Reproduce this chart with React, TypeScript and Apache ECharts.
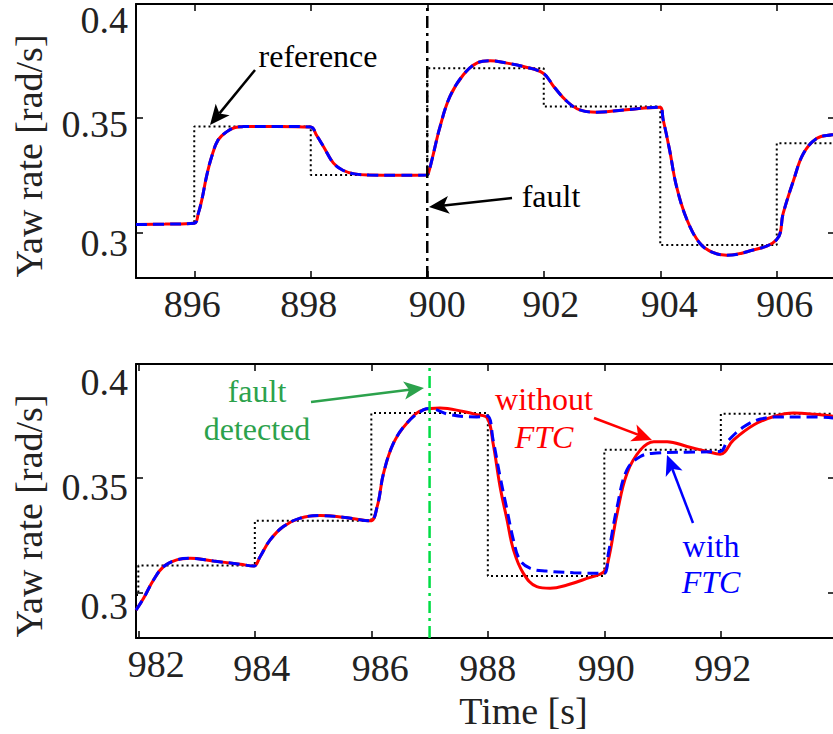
import { useEffect, useRef } from 'react';
import * as echarts from 'echarts';

// ---------------- data ----------------
const topTimeTicks = [896, 898, 900, 902, 904, 906];
const bottomTimeTicks = [982, 984, 986, 988, 990, 992];
const yawTicks = [0.3, 0.35, 0.4];
const yawTickLabels = ['0.3', '0.35', '0.4'];

const faultTime = 900;
const detectTime = 987;

const topRefTime = [895, 896, 898, 900, 902, 904, 906, 907];
const topRefYaw = [0.3036, 0.3463, 0.3251, 0.3719, 0.3551, 0.2944, 0.339, 0.339];

const topTime = [
  895.0, 895.5, 896.0, 896.07, 896.13, 896.21, 896.3, 896.41, 896.56, 896.7, 896.84, 897.4,
  898.0, 898.1, 898.22, 898.39, 898.55, 898.75, 899.0, 899.5, 900.0, 900.02, 900.08, 900.22,
  900.39, 900.62, 900.85, 901.08, 901.37, 901.65, 901.99, 902.17, 902.4, 902.62, 902.91,
  903.37, 903.99, 904.05, 904.16, 904.28, 904.46, 904.68, 904.9, 905.14, 905.49, 906.0,
  906.11, 906.29, 906.46, 906.69, 906.95, 907.0,
];
const topYawWithoutFTC = [
  0.3034, 0.3036, 0.304, 0.3083, 0.3142, 0.3244, 0.3332, 0.3405, 0.3441, 0.3459, 0.3463, 0.3464,
  0.3461, 0.3425, 0.3375, 0.3303, 0.3272, 0.3256, 0.3251, 0.325, 0.3251, 0.3259, 0.3317, 0.3463,
  0.3595, 0.369, 0.3741, 0.3751, 0.3741, 0.3726, 0.3697, 0.3639, 0.3573, 0.3536, 0.3526,
  0.3536, 0.3548, 0.3493, 0.3361, 0.32, 0.3054, 0.2952, 0.2912, 0.29, 0.2915, 0.2969,
  0.3083, 0.3229, 0.3346, 0.3412, 0.3427, 0.3428,
];
const topYawWithFTC = [
  0.3034, 0.3036, 0.304, 0.3083, 0.3142, 0.3244, 0.3332, 0.3405, 0.3441, 0.3459, 0.3463, 0.3464,
  0.3461, 0.3425, 0.3375, 0.3303, 0.3272, 0.3256, 0.3251, 0.325, 0.3251, 0.3259, 0.3317, 0.3463,
  0.3595, 0.369, 0.3741, 0.3751, 0.3741, 0.3726, 0.3697, 0.3639, 0.3573, 0.3536, 0.3526,
  0.3536, 0.3548, 0.3493, 0.3361, 0.32, 0.3054, 0.2952, 0.2912, 0.29, 0.2915, 0.2969,
  0.3083, 0.3229, 0.3346, 0.3412, 0.3427, 0.3428,
];

const bottomRefTime = [981.96, 982, 984, 986, 988, 990, 992, 993.96];
const bottomRefYaw = [0.2988, 0.3117, 0.3313, 0.3785, 0.3071, 0.3624, 0.3782, 0.3782];

const bottomTimeWithout = [
  981.96, 982.09, 982.26, 982.43, 982.66, 982.89, 983.29, 983.75, 983.98, 984.09, 984.26,
  984.49, 984.78, 985.12, 985.52, 985.98, 986.1, 986.21, 986.38, 986.61, 986.9, 987.18,
  987.58, 987.81, 987.99, 988.09, 988.21, 988.33, 988.44, 988.61, 988.84, 989.07, 989.36,
  989.7, 989.99, 990.07, 990.22, 990.39, 990.62, 990.85, 991.08, 991.42, 991.76, 991.99,
  992.22, 992.57, 992.91, 993.25, 993.6, 993.96,
];
const bottomYawWithout = [
  0.2922, 0.2974, 0.3054, 0.3112, 0.3142, 0.3149, 0.3137, 0.3123, 0.3115, 0.3156, 0.3229,
  0.3288, 0.3325, 0.3336, 0.3329, 0.3313, 0.3375, 0.3522, 0.3653, 0.3741, 0.38, 0.3807,
  0.3792, 0.3778, 0.3763, 0.3653, 0.3463, 0.3317, 0.3186, 0.3083, 0.3025, 0.3018, 0.3032,
  0.3061, 0.309, 0.3142, 0.3346, 0.3522, 0.3624, 0.366, 0.366, 0.3639, 0.3617, 0.3605,
  0.3668, 0.3734, 0.377, 0.3785, 0.378, 0.377,
];

const bottomTimeWith = [
  981.96, 982.09, 982.26, 982.43, 982.66, 982.89, 983.29, 983.75, 983.98, 984.09, 984.26,
  984.49, 984.78, 985.12, 985.52, 985.98, 986.1, 986.21, 986.38, 986.61, 986.9, 987.0,
  987.35, 987.81, 987.99, 988.09, 988.21, 988.33, 988.44, 988.55, 988.73, 989.01, 989.47,
  989.99, 990.07, 990.22, 990.39, 990.62, 990.9, 991.42, 991.99, 992.11, 992.4, 992.68,
  993.02, 993.6, 993.96,
];
const bottomYawWith = [
  0.2922, 0.2974, 0.3054, 0.3112, 0.3142, 0.3149, 0.3137, 0.3123, 0.3115, 0.3156, 0.3229,
  0.3288, 0.3325, 0.3336, 0.3329, 0.3313, 0.3375, 0.3522, 0.3653, 0.3741, 0.38, 0.3805,
  0.3778, 0.3768, 0.3772, 0.3668, 0.3507, 0.3361, 0.3229, 0.3142, 0.3105, 0.3093, 0.3086,
  0.3083, 0.3171, 0.3375, 0.3537, 0.3595, 0.361, 0.3614, 0.3617, 0.366, 0.3726, 0.3759,
  0.3768, 0.3768, 0.3763,
];

// ---------------- styling ----------------
const FONT = '"Liberation Serif", "Times New Roman", Times, serif';
const TXT = '#222222';
const RED = '#ff0000';
const BLUE = '#0000ff';
const GREEN_TXT = '#2ca24c';
const GREEN_LINE = '#00dd44';

// tick-label layout nudges [dx, dy] in px, relative to centred-under-tick position
const xLabelNudge: Record<string, [number, number]> = {
  '896': [-2, 26], '898': [-2, 26], '900': [10, 26], '902': [7, 26], '904': [9, 26], '906': [8, 26],
  '982': [18, 26], '984': [7, 30], '986': [9, 30], '988': [0, 30], '990': [2, 30], '992': [2, 30],
};
const yNudgeTop = [11, 6, 16];
const yNudgeBottom = [14, 9, 18];

const zip = (a: number[], b: number[]) => a.map((v, i) => [v, b[i]]);

const axisLine = { show: true, onZero: false, lineStyle: { color: '#000', width: 2 } };
const tickStyle = (ticks: number[]) => ({
  show: true, inside: true, length: 7, customValues: ticks, lineStyle: { color: '#000', width: 1.5 },
});

function xAxes(grid: number, min: number, max: number, ticks: number[], withName: boolean) {
  return [
    {
      type: 'value', gridIndex: grid, min, max, position: 'bottom',
      axisLine, splitLine: { show: false }, axisTick: tickStyle(ticks), axisLabel: { show: false },
      ...(withName ? {
        name: 'Time [s]', nameLocation: 'middle', nameGap: 54,
        nameTextStyle: { fontSize: 38, fontFamily: FONT, color: TXT, padding: [0, 0, 0, 76] },
      } : {}),
    },
    {
      type: 'value', gridIndex: grid, min, max, position: 'top',
      axisLine, splitLine: { show: false }, axisTick: tickStyle(ticks), axisLabel: { show: false },
    },
  ];
}
function yAxes(grid: number) {
  return [
    {
      type: 'value', gridIndex: grid, min: 0.28, max: 0.4, position: 'left',
      axisLine, splitLine: { show: false }, axisTick: tickStyle(yawTicks), axisLabel: { show: false },
      name: 'Yaw rate [rad/s]', nameLocation: 'middle', nameRotate: 90, nameGap: 88,
      nameTextStyle: { fontSize: 38, fontFamily: FONT, color: TXT, padding: [0, 30, 0, 0] },
    },
    {
      type: 'value', gridIndex: grid, min: 0.28, max: 0.4, position: 'right',
      axisLine, splitLine: { show: false }, axisTick: tickStyle(yawTicks), axisLabel: { show: false },
    },
  ];
}

function arrow(x1: number, y1: number, x2: number, y2: number, color: string) {
  const headLen = 20, headW = 9;
  const dx = x2 - x1, dy = y2 - y1, L = Math.hypot(dx, dy);
  const ux = dx / L, uy = dy / L, px = -uy, py = ux;
  const bx = x2 - ux * headLen, by = y2 - uy * headLen;
  const nx = x2 - ux * headLen * 0.75, ny = y2 - uy * headLen * 0.75;
  return [
    { type: 'line', shape: { x1, y1, x2: nx, y2: ny }, style: { stroke: color, lineWidth: 2.5 }, z: 100 },
    {
      type: 'polygon',
      shape: { points: [[x2, y2], [bx + px * headW, by + py * headW], [nx, ny], [bx - px * headW, by - py * headW]] },
      style: { fill: color }, z: 100,
    },
  ];
}
function label(x: number, y: number, text: string, color: string, extra: any = {}) {
  return {
    type: 'text', x, y, z: 100,
    style: { text, fill: color, fontSize: 32, fontFamily: FONT, align: 'center', verticalAlign: 'middle', ...extra },
  };
}

export default function App() {
  const ref = useRef<HTMLDivElement>(null);
  useEffect(() => {
    if (!ref.current) return;
    const chart = echarts.init(ref.current, null, { renderer: 'svg' });
    const refLine = { color: '#000', width: 2, type: [2, 3] };
    const redLine = { color: RED, width: 3 };
    const blueLine = { color: BLUE, width: 3, type: [11, 6] };
    const smooth = 0.4;
    const annotations = [
      label(318, 56, 'reference', '#000'),
      ...arrow(255, 70, 210, 125, '#000'),
      label(551, 196, 'fault', '#000'),
      ...arrow(512, 198, 429, 207, '#000'),
      label(257, 410, 'fault\ndetected', GREEN_TXT, { lineHeight: 38 }),
      ...arrow(311, 402, 424, 388, GREEN_TXT),
      label(544, 418, '{a|without}\n{b|FTC}', RED, {
        rich: {
          a: { fontSize: 32, fontFamily: FONT, fill: RED, lineHeight: 38 },
          b: { fontSize: 32, fontFamily: FONT, fill: RED, fontStyle: 'italic', lineHeight: 38 },
        },
      }),
      ...arrow(594, 418, 652, 440, RED),
      label(711, 564, '{a|with}\n{b|FTC}', BLUE, {
        rich: {
          a: { fontSize: 32, fontFamily: FONT, fill: BLUE, lineHeight: 36 },
          b: { fontSize: 32, fontFamily: FONT, fill: BLUE, fontStyle: 'italic', lineHeight: 36 },
        },
      }),
      ...arrow(693, 523, 667, 455, BLUE),
    ];
    chart.setOption({
      animation: false,
      backgroundColor: '#fff',
      grid: [
        { left: 136, top: 4, width: 699, height: 274 },
        { left: 136, top: 364, width: 699, height: 274 },
      ],
      xAxis: [
        ...xAxes(0, 895, 907, topTimeTicks, false),
        ...xAxes(1, 981.96, 993.96, bottomTimeTicks, true),
      ],
      yAxis: [...yAxes(0), ...yAxes(1)],
      series: [
        { type: 'line', xAxisIndex: 0, yAxisIndex: 0, step: 'end', symbol: 'none', data: zip(topRefTime, topRefYaw), lineStyle: refLine, z: 2 },
        { type: 'line', xAxisIndex: 0, yAxisIndex: 0, smooth, symbol: 'none', data: zip(topTime, topYawWithoutFTC), lineStyle: redLine, z: 3 },
        { type: 'line', xAxisIndex: 0, yAxisIndex: 0, smooth, symbol: 'none', data: zip(topTime, topYawWithFTC), lineStyle: blueLine, z: 4 },
        { type: 'line', xAxisIndex: 0, yAxisIndex: 0, symbol: 'none', data: [[faultTime, 0.28], [faultTime, 0.4]], lineStyle: { color: '#000', width: 2.5, type: [12, 5, 3, 5] }, z: 5 },
        { type: 'line', xAxisIndex: 2, yAxisIndex: 2, step: 'end', symbol: 'none', data: zip(bottomRefTime, bottomRefYaw), lineStyle: refLine, z: 2 },
        { type: 'line', xAxisIndex: 2, yAxisIndex: 2, smooth, symbol: 'none', data: zip(bottomTimeWithout, bottomYawWithout), lineStyle: redLine, z: 3 },
        { type: 'line', xAxisIndex: 2, yAxisIndex: 2, smooth, symbol: 'none', data: zip(bottomTimeWith, bottomYawWith), lineStyle: blueLine, z: 4 },
        { type: 'line', xAxisIndex: 2, yAxisIndex: 2, symbol: 'none', data: [[detectTime, 0.28], [detectTime, 0.4]], lineStyle: { color: GREEN_LINE, width: 2.5, type: [12, 5, 3, 5] }, z: 5 },
      ],
      graphic: annotations,
    });

    // tick labels, positioned through the axes' own scales
    const tickTexts: any[] = [];
    const addX = (grid: number, ticks: number[]) => {
      ticks.forEach((t) => {
        const p = chart.convertToPixel({ gridIndex: grid } as any, [t, 0.28]) as number[];
        const key = String(t);
        const [dx, dy] = xLabelNudge[key] || [0, 26];
        tickTexts.push({
          type: 'text', x: p[0] + dx, y: p[1] + dy, z: 50,
          style: { text: key, fill: TXT, fontSize: 38, fontFamily: FONT, align: 'center', verticalAlign: 'middle' },
        });
      });
    };
    const addY = (grid: number, nudge: number[]) => {
      yawTicks.forEach((v, i) => {
        const p = chart.convertToPixel({ gridIndex: grid } as any, [grid === 0 ? 895 : 981.96, v]) as number[];
        tickTexts.push({
          type: 'text', x: p[0] - 8, y: p[1] + nudge[i], z: 50,
          style: { text: yawTickLabels[i], fill: TXT, fontSize: 38, fontFamily: FONT, align: 'right', verticalAlign: 'middle' },
        });
      });
    };
    addX(0, topTimeTicks);
    addX(1, bottomTimeTicks);
    addY(0, yNudgeTop);
    addY(1, yNudgeBottom);
    chart.setOption({ graphic: [...annotations, ...tickTexts] });

    return () => chart.dispose();
  }, []);
  return (
    <div style={{ position: 'fixed', left: 0, top: 0, width: 833, height: 734, overflow: 'hidden', background: '#fff' }}>
      <div ref={ref} style={{ width: 840, height: 734 }} />
    </div>
  );
}
